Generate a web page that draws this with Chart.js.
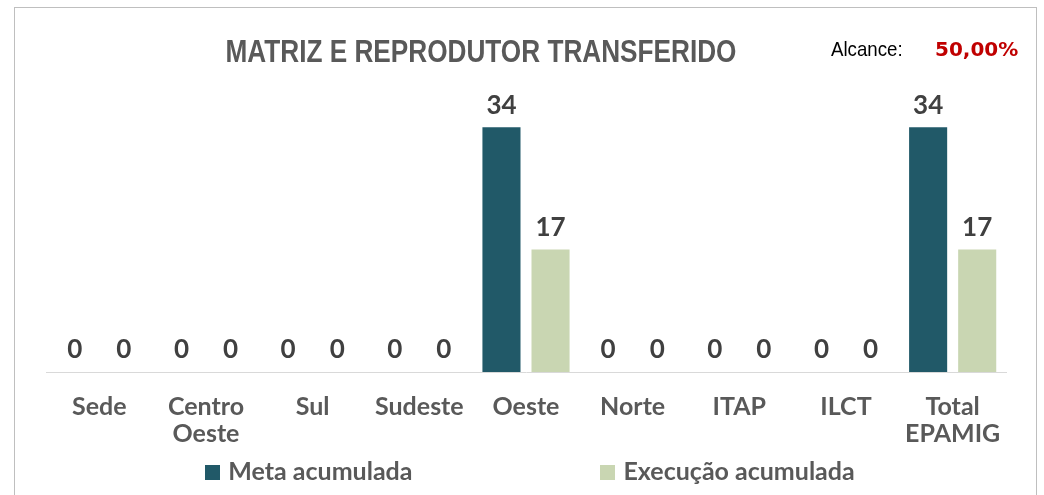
<!DOCTYPE html>
<html>
<head>
<meta charset="utf-8">
<script src="https://cdn.jsdelivr.net/npm/chart.js@4/dist/chart.umd.min.js"></script>
<style>
  html, body { margin: 0; padding: 0; background: #fff; }
  #wrap { position: relative; width: 1044px; height: 495px; overflow: hidden; }
  #frame { position: absolute; left: 14px; top: 7px; width: 1023px; height: 520px; border: 1px solid #bfbfbf; box-sizing: border-box; }
  canvas { position: absolute; left: 0; top: 0; }
  #legend { position: absolute; left: 0; width: 1044px; top: 455px; display: flex; justify-content: center; gap: 188px;
            font: bold 25px Lato, sans-serif; color: #595959; padding-left: 16px; box-sizing: border-box; }
  #legend span.box { display: inline-block; width: 15px; height: 15px; margin-right: 8px; vertical-align: 0px; }
</style>
</head>
<body>
<div id="wrap">
  <div id="frame"></div>
  <canvas id="chart" width="1044" height="495"></canvas>
  <div id="legend"></div>
</div>
<script>
const categories = ["Sede", ["Centro", "Oeste"], "Sul", "Sudeste", "Oeste", "Norte", "ITAP", "ILCT", ["Total", "EPAMIG"]];
const metaAcumulada = [0, 0, 0, 0, 34, 0, 0, 0, 34];
const execucaoAcumulada = [0, 0, 0, 0, 17, 0, 0, 0, 17];
const seriesNames = ["Meta acumulada", "Execução acumulada"];
const seriesColors = ["#215968", "#c9d6b2"];
const titleText = "MATRIZ E REPRODUTOR TRANSFERIDO";
const alcanceLabel = "Alcance:";
const alcanceValue = "50,00%";

// value labels above each bar
const valueLabels = {
  id: "valueLabels",
  afterDatasetsDraw(chart) {
    const ctx = chart.ctx;
    ctx.save();
    ctx.font = "bold 26px Lato, sans-serif";
    ctx.fillStyle = "#404040";
    ctx.textAlign = "center";
    ctx.textBaseline = "bottom";
    chart.data.datasets.forEach((ds, i) => {
      chart.getDatasetMeta(i).data.forEach((bar, j) => {
        ctx.fillText(String(ds.data[j]), bar.x, bar.y - 9);
      });
    });
    ctx.restore();
  }
};

// title (condensed) and the "Alcance" note
const header = {
  id: "header",
  afterDraw(chart) {
    const ctx = chart.ctx;
    ctx.save();
    ctx.textBaseline = "alphabetic";
    ctx.textAlign = "center";
    ctx.font = "bold 32px 'Liberation Sans', Arial, sans-serif";
    ctx.fillStyle = "#595959";
    ctx.save();
    ctx.translate(481, 62);
    ctx.scale(0.818, 1);
    ctx.fillText(titleText, 0, 0);
    ctx.restore();

    ctx.textAlign = "left";
    ctx.font = "21px 'Liberation Sans', Arial, sans-serif";
    ctx.fillStyle = "#000";
    ctx.save();
    ctx.translate(831, 56);
    ctx.scale(0.89, 1);
    ctx.fillText(alcanceLabel, 0, 0);
    ctx.restore();
    ctx.font = "bold 20px 'DejaVu Sans', sans-serif";
    ctx.fillStyle = "#c00000";
    ctx.fillText(alcanceValue, 935, 56);
    ctx.restore();
  }
};

new Chart(document.getElementById("chart"), {
  type: "bar",
  data: {
    labels: categories,
    datasets: [
      { label: seriesNames[0], data: metaAcumulada, backgroundColor: seriesColors[0] },
      { label: seriesNames[1], data: execucaoAcumulada, backgroundColor: seriesColors[1] }
    ]
  },
  options: {
    responsive: false,
    animation: false,
    devicePixelRatio: 1,
    datasets: { bar: { categoryPercentage: 0.92, barPercentage: 0.776 } },
    layout: { padding: { left: 46, right: 38, top: 84, bottom: 27 } },
    scales: {
      x: {
        grid: { display: false, drawTicks: false },
        border: { color: "#d9d9d9", width: 1 },
        ticks: {
          color: "#595959",
          font: { family: "Lato, sans-serif", size: 25, weight: "bold", lineHeight: 1.08 },
          padding: 21,
          maxRotation: 0,
          autoSkip: false
        }
      },
      y: { display: false, min: 0, max: 40 }
    },
    plugins: {
      legend: { display: false },
      tooltip: { enabled: false },
      title: { display: false }
    }
  },
  plugins: [valueLabels, header]
});

// legend
const legend = document.getElementById("legend");
seriesNames.forEach((name, i) => {
  const item = document.createElement("div");
  item.innerHTML = `<span class="box" style="background:${seriesColors[i]}"></span>${name}`;
  legend.appendChild(item);
});
</script>
</body>
</html>
